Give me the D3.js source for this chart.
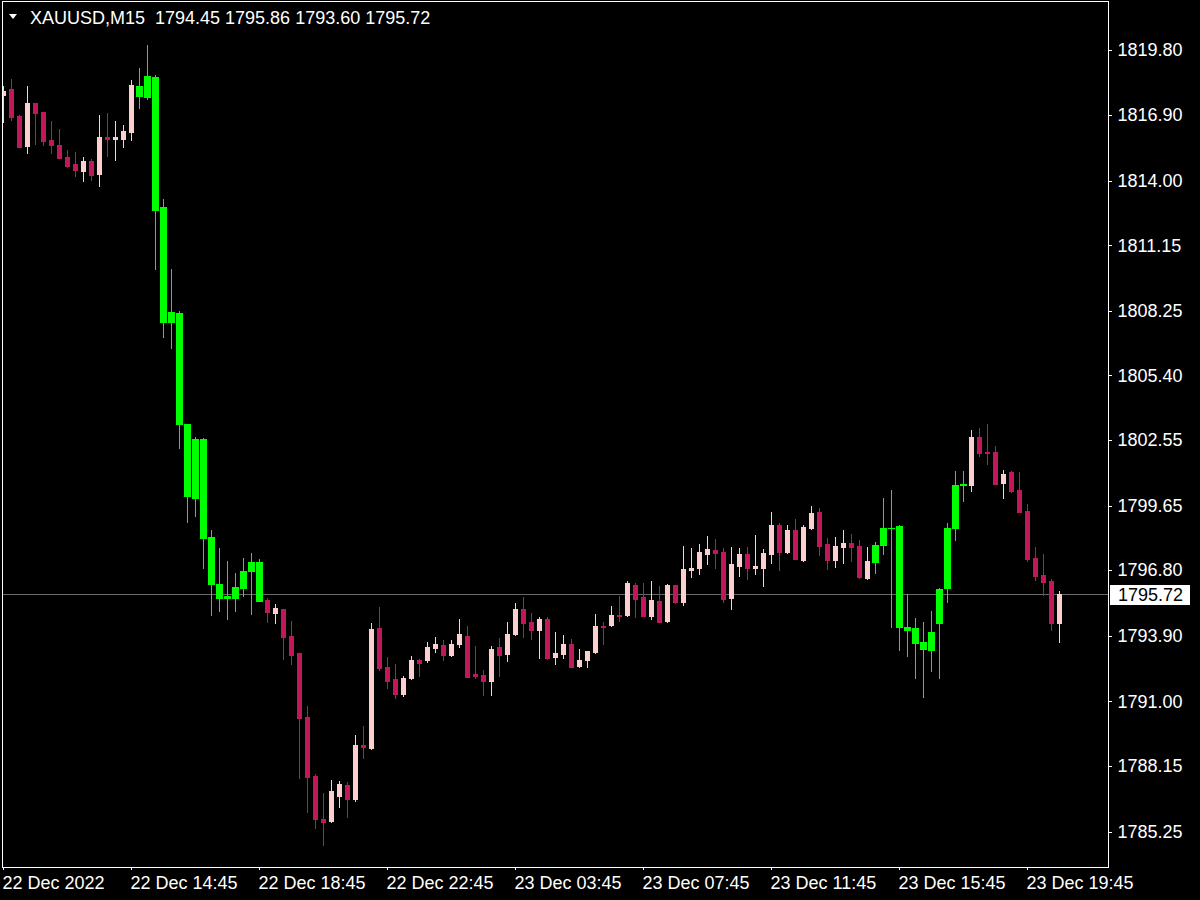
<!DOCTYPE html>
<html><head><meta charset="utf-8">
<script src="https://cdn.jsdelivr.net/npm/d3@7"></script>
<style>html,body{margin:0;padding:0;background:#000;overflow:hidden}</style>
</head><body>
<svg id="chart" width="1200" height="900"></svg>
<script>
const symbol = "XAUUSD,M15";
const opens = [1817.77,1818.03,1816.84,1815.52,1817.42,1817.02,1815.78,1815.56,1815.03,1814.72,1814.41,1814.85,1814.28,1815.91,1815.82,1815.82,1816.13,1818.17,1817.68,1818.56,1812.82,1807.74,1808.14,1803.23,1799.96,1802.57,1798.24,1796.17,1795.55,1795.55,1795.99,1796.74,1797.14,1795.46,1794.88,1795.06,1793.87,1793.12,1790.29,1787.68,1785.78,1785.69,1786.80,1787.29,1786.67,1789.05,1788.92,1794.22,1792.50,1791.97,1791.31,1792.01,1792.81,1792.81,1793.34,1793.47,1793.03,1793.51,1793.87,1792.19,1792.14,1791.88,1793.38,1793.07,1793.96,1795.06,1794.49,1794.13,1794.62,1792.94,1793.07,1793.51,1792.54,1792.81,1793.16,1794.31,1794.35,1794.80,1794.80,1796.12,1795.59,1794.75,1795.41,1794.53,1796.12,1795.37,1796.78,1796.87,1797.49,1797.67,1797.58,1795.55,1796.96,1797.49,1796.87,1796.87,1797.49,1798.77,1797.58,1798.55,1797.23,1798.64,1799.35,1797.93,1797.23,1797.80,1797.98,1797.84,1796.43,1797.14,1797.89,1798.64,1798.73,1794.26,1794.22,1793.60,1793.25,1794.44,1795.99,1798.64,1800.54,1800.54,1802.66,1802.00,1802.00,1800.63,1801.11,1800.32,1799.39,1797.31,1796.56,1796.30,1794.45];
const highs = [1818.17,1818.48,1816.89,1818.17,1817.42,1817.02,1816.62,1816.27,1815.34,1815.25,1815.03,1814.94,1816.89,1816.97,1816.62,1816.44,1818.43,1818.96,1819.98,1818.65,1813.17,1810.08,1808.23,1803.23,1802.66,1802.61,1798.55,1797.76,1797.18,1796.65,1797.31,1797.53,1797.27,1795.55,1795.28,1795.06,1794.53,1793.12,1790.78,1787.77,1786.93,1787.51,1787.46,1787.42,1789.49,1789.89,1794.44,1795.15,1792.94,1792.63,1792.10,1792.98,1792.85,1793.60,1793.82,1793.69,1793.69,1794.62,1794.31,1793.43,1792.37,1793.43,1793.78,1794.49,1795.33,1795.59,1794.88,1794.71,1794.71,1794.04,1793.91,1793.74,1793.29,1793.20,1794.84,1794.49,1795.19,1795.64,1796.30,1796.21,1796.21,1796.30,1796.08,1796.17,1796.12,1797.84,1797.76,1797.93,1798.29,1798.15,1797.76,1797.80,1797.76,1797.80,1798.33,1797.71,1799.35,1798.86,1798.77,1799.04,1798.77,1799.61,1799.52,1798.20,1798.24,1798.55,1798.37,1798.11,1797.80,1798.02,1799.96,1800.32,1798.77,1795.72,1794.66,1794.49,1794.97,1795.99,1798.86,1801.16,1801.16,1802.97,1803.06,1803.23,1802.26,1801.20,1801.16,1801.11,1799.70,1797.80,1797.49,1796.39,1795.86];
const lows = [1816.58,1816.66,1815.47,1815.21,1815.60,1815.56,1815.21,1814.99,1814.59,1814.19,1813.97,1814.01,1813.75,1815.07,1814.90,1815.47,1815.78,1817.19,1817.59,1810.08,1807.08,1806.59,1802.17,1798.90,1799.17,1796.87,1794.80,1794.97,1794.62,1794.97,1795.64,1794.84,1795.41,1794.49,1794.44,1792.85,1792.63,1787.59,1786.09,1785.39,1784.63,1785.65,1786.31,1785.87,1786.58,1788.48,1788.88,1792.37,1791.57,1791.13,1791.22,1791.97,1792.10,1792.72,1793.16,1792.81,1792.98,1793.38,1792.06,1792.01,1791.26,1791.26,1792.10,1792.76,1793.91,1793.82,1793.74,1792.90,1792.85,1792.63,1792.90,1792.50,1792.50,1792.50,1793.12,1793.51,1794.31,1794.53,1794.75,1794.71,1794.75,1794.62,1794.49,1794.49,1795.33,1795.24,1796.47,1796.61,1797.05,1796.87,1795.37,1795.06,1796.52,1796.39,1796.61,1796.08,1797.09,1796.78,1797.53,1797.27,1797.18,1798.59,1797.45,1796.83,1796.92,1797.09,1797.18,1796.43,1796.39,1796.65,1797.49,1794.26,1793.25,1792.98,1792.01,1791.17,1792.32,1792.01,1795.37,1798.11,1799.83,1800.27,1801.82,1801.47,1800.58,1799.96,1800.23,1799.35,1797.18,1796.34,1795.68,1794.13,1793.60];
const closes = [1817.95,1816.80,1815.47,1817.42,1816.97,1815.74,1815.56,1814.99,1814.63,1814.46,1814.85,1814.23,1815.91,1815.82,1815.91,1816.18,1818.21,1817.72,1818.61,1812.69,1807.74,1808.18,1803.23,1800.05,1802.57,1798.20,1796.17,1795.55,1795.64,1796.03,1796.74,1797.14,1795.41,1794.93,1795.10,1793.82,1793.03,1790.25,1787.64,1785.78,1785.65,1787.02,1787.33,1786.67,1789.05,1788.96,1794.18,1792.45,1791.88,1791.31,1792.01,1792.81,1792.67,1793.38,1793.51,1793.03,1793.51,1793.96,1792.06,1792.10,1791.88,1793.29,1793.03,1793.96,1795.06,1794.44,1794.13,1794.62,1792.90,1793.12,1793.51,1792.50,1792.81,1793.20,1794.31,1794.26,1794.80,1794.75,1796.21,1795.50,1794.75,1795.46,1794.49,1796.12,1795.37,1796.83,1796.87,1797.58,1797.71,1797.53,1795.50,1797.05,1797.49,1796.87,1796.96,1797.53,1798.77,1797.58,1798.55,1797.27,1798.68,1799.30,1797.84,1797.23,1797.84,1797.98,1797.80,1796.47,1797.18,1797.89,1798.64,1798.62,1794.26,1794.13,1793.56,1793.29,1794.04,1795.94,1798.64,1800.54,1800.58,1802.66,1801.95,1801.95,1800.58,1801.02,1800.27,1799.35,1797.27,1796.52,1796.25,1794.44,1795.72];
const marked = [17,18,19,20,21,22,23,24,25,26,27,28,29,30,31,32,109,110,111,112,113,114,115,116,117,118,119,120];
const priceTicks = ["1819.80","1816.90","1814.00","1811.15","1808.25","1805.40","1802.55","1799.65","1796.80","1793.90","1791.00","1788.15","1785.25"];
const timeTickBars = [0,16,32,48,64,80,96,112,128];
const timeTickLabels = ["22 Dec 2022","22 Dec 14:45","22 Dec 18:45","22 Dec 22:45","23 Dec 03:45","23 Dec 07:45","23 Dec 11:45","23 Dec 15:45","23 Dec 19:45"];

const W = 1200, H = 900;
const plotRight = 1108, plotBottom = 867;
const FONT = "'Liberation Sans', Arial, sans-serif";
const svg = d3.select("#chart");
svg.append("rect").attr("width", W).attr("height", H).attr("fill", "#000");

const x = d3.scaleLinear().domain([0, opens.length - 1]).range([3, 3 + 8 * (opens.length - 1)]);
const y = d3.scaleLinear().domain([1785.25, 1819.80]).range([831.5, 49.5]);
const cx = i => x(i) + 0.5;
const row = v => Math.floor(y(v));

svg.append("defs").append("clipPath").attr("id", "clip")
  .append("rect").attr("x", 3).attr("y", 2).attr("width", plotRight - 3).attr("height", plotBottom - 2);

const plot = svg.append("g").attr("clip-path", "url(#clip)");
const last = opens.length - 1;

// bid line
plot.append("line")
  .attr("x1", 0).attr("x2", plotRight)
  .attr("y1", row(closes[last]) + 0.5).attr("y2", row(closes[last]) + 0.5)
  .attr("stroke", "#6a6a6a").attr("stroke-width", 1).attr("shape-rendering", "crispEdges");

const markedSet = new Set(marked);
const data = opens.map((o, i) => ({ i, o, h: highs[i], l: lows[i], c: closes[i], m: markedSet.has(i) }));
const col = d => d.m ? "#00ff00" : (d.c > d.o ? "#fdd0d0" : "#c2185b");

plot.selectAll("line.wick").data(data).join("line").attr("class", "wick")
  .attr("x1", d => cx(d.i)).attr("x2", d => cx(d.i))
  .attr("y1", d => row(d.h)).attr("y2", d => row(d.l) + 1)
  .attr("stroke", col).attr("stroke-width", 1).attr("shape-rendering", "crispEdges");

plot.selectAll("rect.body").data(data).join("rect").attr("class", "body")
  .attr("x", d => cx(d.i) - (d.m ? 3.5 : 2.5))
  .attr("width", d => d.m ? 7 : 5)
  .attr("y", d => row(Math.max(d.o, d.c)))
  .attr("height", d => Math.max(1, row(Math.min(d.o, d.c)) - row(Math.max(d.o, d.c)) + 1))
  .attr("fill", col).attr("shape-rendering", "crispEdges");

// frame
const frame = svg.append("g").attr("stroke", "#fff").attr("stroke-width", 1).attr("shape-rendering", "crispEdges");
frame.append("line").attr("x1", 2.5).attr("x2", 2.5).attr("y1", 1).attr("y2", plotBottom + 1);
frame.append("line").attr("x1", 2).attr("x2", plotRight + 1).attr("y1", 1.5).attr("y2", 1.5);
frame.append("line").attr("x1", plotRight + 0.5).attr("x2", plotRight + 0.5).attr("y1", 1).attr("y2", plotBottom + 1);
frame.append("line").attr("x1", 2).attr("x2", plotRight + 1).attr("y1", plotBottom + 0.5).attr("y2", plotBottom + 0.5);

// right price axis
const yAxis = d3.axisRight(y).tickValues(priceTicks.map(Number))
  .tickFormat((d, i) => priceTicks[i]).tickSize(3).tickSizeOuter(0).tickPadding(6);
const gy = svg.append("g").attr("transform", `translate(${plotRight + 0.5},0)`).call(yAxis);
gy.attr("color", "#fff").attr("font-family", FONT).attr("font-size", 18);
gy.select(".domain").remove();
gy.selectAll("line").attr("shape-rendering", "crispEdges");
gy.selectAll("text").attr("fill", "#fff");

// bottom time axis
const xAxis = d3.axisBottom(x).tickValues(timeTickBars)
  .tickFormat((d, i) => timeTickLabels[i]).tickSize(3).tickSizeOuter(0);
const gx = svg.append("g").attr("transform", `translate(0,${plotBottom})`).call(xAxis);
gx.attr("color", "#fff").attr("font-family", FONT).attr("font-size", 18);
gx.select(".domain").remove();
gx.selectAll("line").attr("shape-rendering", "crispEdges");
gx.selectAll("text").attr("text-anchor", "start").attr("x", -1).attr("y", 22).attr("dy", null).attr("fill", "#fff");

// current price box
const by = row(closes[last]);
svg.append("rect").attr("x", plotRight + 2).attr("y", by - 9).attr("width", 80).attr("height", 20).attr("fill", "#fff");
svg.append("text").attr("x", plotRight + 10).attr("y", by + 1).attr("dy", "0.35em")
  .attr("font-family", FONT).attr("font-size", 18).attr("fill", "#000").text(closes[last].toFixed(2));

// header
svg.append("path").attr("d", "M9,14 L17,14 L13,19 Z").attr("fill", "#fff");
svg.append("text").attr("x", 30).attr("y", 24).attr("font-family", FONT).attr("font-size", 18).attr("fill", "#fff").text(symbol);
svg.append("text").attr("x", 155).attr("y", 24).attr("font-family", FONT).attr("font-size", 18).attr("fill", "#fff")
  .text([opens[last], highs[last], lows[last], closes[last]].map(v => v.toFixed(2)).join(" "));
</script>
</body></html>
